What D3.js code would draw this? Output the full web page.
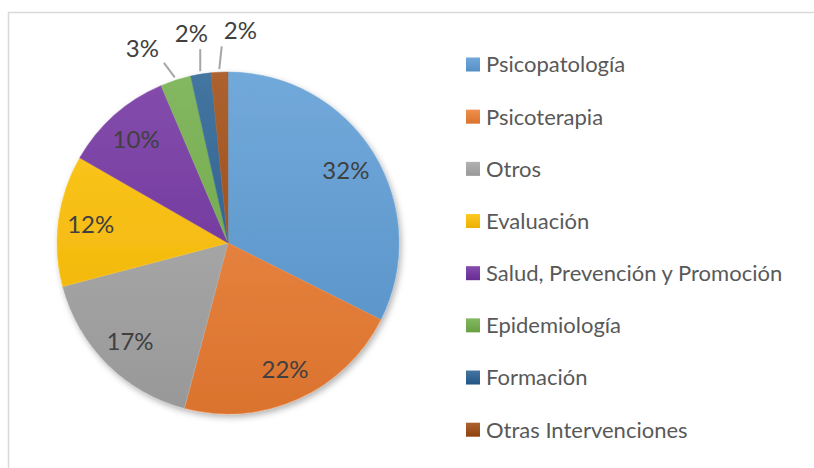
<!DOCTYPE html>
<html>
<head>
<meta charset="utf-8">
<script src="https://cdn.jsdelivr.net/npm/d3@7"></script>
<style>
  body { margin: 0; background: #fff; }
  svg { display: block; }
  text { font-family: Lato, "Open Sans", sans-serif; }
</style>
</head>
<body>
<svg id="chart" width="814" height="468"></svg>
<script>
// data (percent of total)
var categories = ["Psicopatología", "Psicoterapia", "Otros", "Evaluación",
    "Salud, Prevención y Promoción", "Epidemiología", "Formación", "Otras Intervenciones"];
var values = [32.4, 21.7, 16.8, 12.4, 10.3, 2.9, 1.9, 1.6];
var colors = ["#5B9BD5", "#ED7D31", "#A5A5A5", "#FFC000", "#7030A0", "#70AD47", "#255E91", "#9E480E"];

var width = 814, height = 468;
var cx = 228, cy = 243, radius = 171;

var svg = d3.select("#chart");
var defs = svg.append("defs");

// soft shadow like the office style
var shadow = defs.append("filter").attr("id", "shadow")
    .attr("x", "-20%").attr("y", "-20%").attr("width", "140%").attr("height", "140%");
shadow.append("feDropShadow")
    .attr("dx", 2).attr("dy", 3).attr("stdDeviation", 3)
    .attr("flood-color", "#000").attr("flood-opacity", 0.3);

function lighter(c) { return d3.interpolateRgb(c, "#fff")(0.14); }
function darker(c) { return d3.interpolateRgb(c, "#000")(0.08); }

colors.forEach(function (c, i) {
    // slice gradient, in the pie group's coordinates
    var g = defs.append("linearGradient").attr("id", "grad" + i)
        .attr("gradientUnits", "userSpaceOnUse")
        .attr("x1", 0).attr("x2", 0).attr("y1", -radius).attr("y2", radius);
    g.append("stop").attr("offset", "0%").attr("stop-color", lighter(c));
    g.append("stop").attr("offset", "100%").attr("stop-color", darker(c));

    var s = defs.append("linearGradient").attr("id", "sq" + i)
        .attr("x1", 0).attr("x2", 0).attr("y1", 0).attr("y2", 1);
    s.append("stop").attr("offset", "0%").attr("stop-color", lighter(c));
    s.append("stop").attr("offset", "100%").attr("stop-color", darker(c));
});

// chart area border
svg.append("rect")
    .attr("x", 8.5).attr("y", 12.5)
    .attr("width", width + 10).attr("height", height + 10)
    .attr("fill", "none").attr("stroke", "#d9d9d9").attr("stroke-width", 1.5);

var pie = d3.pie().sort(null).value(function (d) { return d; });
var arcs = pie(values);
var total = d3.sum(values);

var arc = d3.arc().innerRadius(0).outerRadius(radius);
var labelArc = d3.arc().innerRadius(radius * 0.81).outerRadius(radius * 0.81);

var g = svg.append("g").attr("transform", "translate(" + cx + "," + cy + ")");

g.append("g").attr("filter", "url(#shadow)")
  .selectAll("path")
  .data(arcs)
  .join("path")
    .attr("d", arc)
    .attr("fill", function (d, i) { return "url(#grad" + i + ")"; })
    .attr("stroke", function (d, i) { return lighter(colors[i]); })
    .attr("stroke-width", 0.5);

function pct(d) { return Math.round(d.value / total * 100) + "%"; }
function mid(d) { return (d.startAngle + d.endAngle) / 2; }

var inside = arcs.filter(function (d) { return d.value / total >= 0.05; });
var outside = arcs.filter(function (d) { return d.value / total < 0.05; });

g.selectAll("text.in")
  .data(inside)
  .join("text")
    .attr("class", "in")
    .attr("transform", function (d) { return "translate(" + labelArc.centroid(d) + ")"; })
    .attr("text-anchor", "middle")
    .attr("dy", "0.36em")
    .attr("font-size", 24)
    .attr("fill", "#404040")
    .text(pct);

// outside labels: start on a ring, then push apart horizontally
var ringR = radius + 42, gap = 49;
var lab = outside.map(function (d) {
    var a = mid(d);
    return { d: d, a: a, x: ringR * Math.sin(a), y: -ringR * Math.cos(a) };
});
lab.sort(function (a, b) { return a.x - b.x; });
for (var k = 0; k < 50; k++) {
    for (var i = 1; i < lab.length; i++) {
        var over = gap - (lab[i].x - lab[i - 1].x);
        if (over > 0) { lab[i].x += over / 2; lab[i - 1].x -= over / 2; }
    }
}
lab.forEach(function (l) {
    l.y = -Math.sqrt(Math.max(0, ringR * ringR - l.x * l.x));
    var ax = (radius + 3) * Math.sin(l.a), ay = -(radius + 3) * Math.cos(l.a);
    var hw = 18, hh = 10;
    var nx = Math.max(l.x - hw, Math.min(l.x + hw, ax));
    var ny = Math.max(l.y - hh, Math.min(l.y + hh, ay));
    var dx = ax - nx, dy = ay - ny, len = Math.sqrt(dx * dx + dy * dy) || 1;
    l.line = [[ax, ay], [nx + dx / len * 6, ny + dy / len * 6]];
});

g.selectAll("line.lead")
  .data(lab)
  .join("line")
    .attr("class", "lead")
    .attr("x1", function (l) { return l.line[0][0]; })
    .attr("y1", function (l) { return l.line[0][1]; })
    .attr("x2", function (l) { return l.line[1][0]; })
    .attr("y2", function (l) { return l.line[1][1]; })
    .attr("stroke", "#a6a6a6").attr("stroke-width", 2);

g.selectAll("text.out")
  .data(lab)
  .join("text")
    .attr("class", "out")
    .attr("x", function (l) { return l.x; })
    .attr("y", function (l) { return l.y; })
    .attr("text-anchor", "middle")
    .attr("dy", "0.36em")
    .attr("font-size", 24)
    .attr("fill", "#404040")
    .text(function (l) { return pct(l.d); });

// legend
var legendY = d3.scalePoint().domain(categories).range([64.5, 429.7]);
var legend = svg.append("g").selectAll("g")
  .data(categories)
  .join("g")
    .attr("transform", function (d) { return "translate(466," + legendY(d) + ")"; });

legend.append("rect")
    .attr("x", 0).attr("y", -7).attr("width", 14).attr("height", 14)
    .attr("fill", function (d, i) { return "url(#sq" + i + ")"; });

legend.append("text")
    .attr("x", 20).attr("dy", "0.36em")
    .attr("font-size", 22)
    .attr("fill", "#595959")
    .text(function (d) { return d; });
</script>
</body>
</html>
